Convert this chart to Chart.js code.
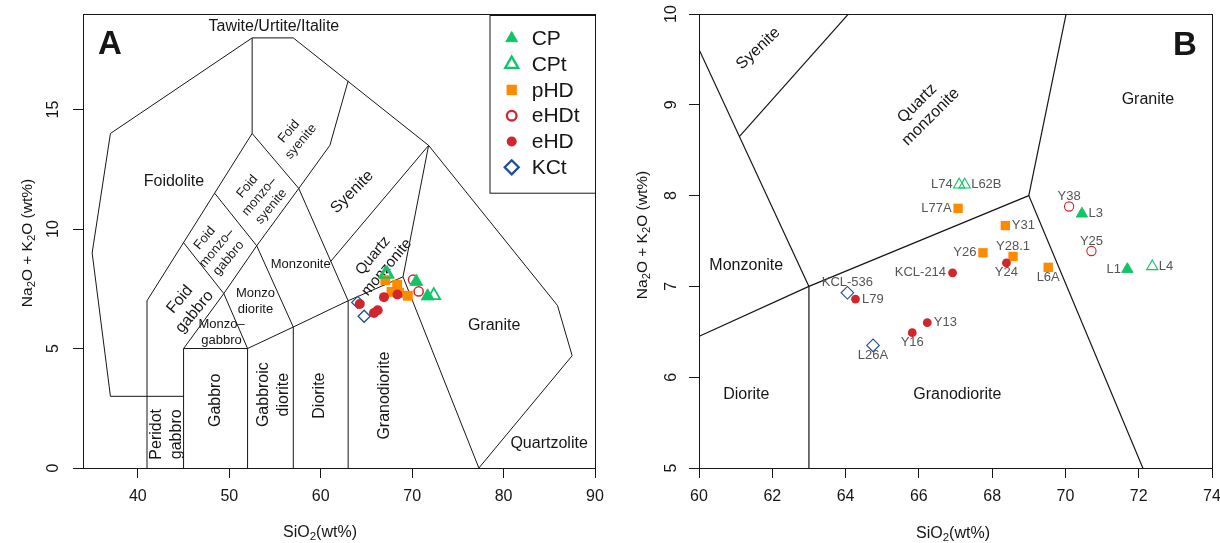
<!DOCTYPE html>
<html>
<head>
<meta charset="utf-8">
<title>TAS classification of plutonic rocks</title>
<script src="https://cdn.jsdelivr.net/npm/chart.js@4.4.1/dist/chart.umd.min.js"></script>
<style>
  html, body { margin: 0; padding: 0; background: #fff; }
  #wrap { position: relative; width: 1220px; height: 543px; overflow: hidden; }
  #wrap canvas { position: absolute; top: 0; }
</style>
</head>
<body>
<div id="wrap">
  <canvas id="panelA" width="610" height="543" style="left:0px;width:610px;height:543px"></canvas>
  <canvas id="panelB" width="610" height="543" style="left:610px;width:610px;height:543px"></canvas>
</div>
<script>
// ---------- sample data: SiO2 and Na2O+K2O (wt%) ----------
const cpNames = ['L3', 'L1'];
const cpSiO2  = [70.45, 71.69];
const cpAlk   = [7.80, 7.19];

const cptNames = ['L74', 'L62B', 'L4'];
const cptSiO2  = [67.10, 67.25, 72.37];
const cptAlk   = [8.12, 8.12, 7.22];

const phdNames = ['L77A', 'Y31', 'Y26', 'Y28.1', 'L6A'];
const phdSiO2  = [67.07, 68.36, 67.75, 68.57, 69.53];
const phdAlk   = [7.86, 7.67, 7.37, 7.33, 7.21];

const ehdtNames = ['Y38', 'Y25'];
const ehdtSiO2  = [70.10, 70.71];
const ehdtAlk   = [7.88, 7.39];

const ehdNames = ['Y24', 'KCL-214', 'L79', 'Y16', 'Y13'];
const ehdSiO2  = [68.39, 66.92, 64.27, 65.82, 66.23];
const ehdAlk   = [7.26, 7.15, 6.86, 6.49, 6.60];

const kctNames = ['KCL-536', 'L26A'];
const kctSiO2  = [64.05, 64.75];
const kctAlk   = [6.93, 6.35];

// axis ticks
const siTicksA  = [40, 50, 60, 70, 80, 90];
const alkTicksA = [0, 5, 10, 15];
const siTicksB  = [60, 62, 64, 66, 68, 70, 72, 74];
const alkTicksB = [5, 6, 7, 8, 9, 10];

// field boundaries of the plutonic TAS diagram (Middlemost 1994), [SiO2, Na2O+K2O]
const fieldLines = [
  [[37, 3], [35, 9], [37, 14], [52.5, 18], [57, 18], [71.8, 13.5], [85.9, 6.8], [87.5, 4.7], [77.3, 0]],
  [[37, 3], [45, 3]],
  [[41, 0], [41, 7], [52.5, 14], [52.5, 18]],
  [[45, 0], [45, 5], [52, 5], [57, 5.9], [63, 7], [69, 8], [77.3, 0]],
  [[52, 0], [52, 5]],
  [[57, 0], [57, 5.9]],
  [[63, 0], [63, 7]],
  [[69, 8], [71.8, 13.5]],
  [[45, 5], [49.4, 7.3], [53, 9.3], [57.6, 11.7], [61, 13.5], [63, 16.2]],
  [[45, 9.43], [49.4, 7.3], [52, 5]],
  [[48.4, 11.5], [53, 9.3], [57, 5.9]],
  [[52.5, 14], [57.6, 11.7], [63, 7]],
  [[61.1, 8.65], [71.8, 13.5]]
];

// field names: text lines, anchor in data units, rotation, font size
const fieldsA = [
  { text: ['Tawite/Urtite/Italite'], x: 54.88, y: 18.46, rot: 0, size: 16 },
  { text: ['Foidolite'], x: 43.95, y: 11.99, rot: 0, size: 16 },
  { text: ['Foid', 'syenite'], x: 57.18, y: 13.87, rot: -50, size: 13 },
  { text: ['Foid', 'monzo\u2013', 'syenite'], x: 53.28, y: 11.36, rot: -50, size: 13 },
  { text: ['Foid', 'monzo\u2013', 'gabbro'], x: 48.62, y: 9.2, rot: -50, size: 13 },
  { text: ['Foid', 'gabbro'], x: 45.4, y: 6.79, rot: -50, size: 16 },
  { text: ['Monzonite'], x: 57.81, y: 8.51, rot: 0, size: 13 },
  { text: ['Monzo', 'diorite'], x: 52.86, y: 6.97, rot: 0, size: 13 },
  { text: ['Monzo\u2013', 'gabbro'], x: 49.16, y: 5.67, rot: 0, size: 13 },
  { text: ['Peridot', 'gabbro'], x: 43.13, y: 1.41, rot: -90, size: 16, lh: 20 },
  { text: ['Gabbro'], x: 48.49, y: 2.83, rot: -90, size: 16 },
  { text: ['Gabbroic', 'diorite'], x: 54.88, y: 3.07, rot: -90, size: 16, lh: 20 },
  { text: ['Diorite'], x: 59.91, y: 3.03, rot: -90, size: 16 },
  { text: ['Granodiorite'], x: 67.02, y: 3.03, rot: -90, size: 16 },
  { text: ['Granite'], x: 78.97, y: 5.97, rot: 0, size: 16 },
  { text: ['Quartzolite'], x: 84.98, y: 1.02, rot: 0, size: 16 },
  { text: ['Syenite'], x: 63.44, y: 11.55, rot: -45, size: 16 },
  { text: ['Quartz', 'monzonite'], x: 66.47, y: 8.64, rot: -50, size: 15 }
];
const fieldsB = [
  { text: ['Syenite'], x: 61.62, y: 9.62, rot: -43, size: 16 },
  { text: ['Quartz', 'monzonite'], x: 66.14, y: 8.94, rot: -45, size: 16 },
  { text: ['Granite'], x: 72.25, y: 9.06, rot: 0, size: 16 },
  { text: ['Monzonite'], x: 61.29, y: 7.23, rot: 0, size: 16 },
  { text: ['Diorite'], x: 61.29, y: 5.81, rot: 0, size: 16 },
  { text: ['Granodiorite'], x: 67.05, y: 5.81, rot: 0, size: 16 }
];

// side of each sample name around its marker (L, R, T, B)
const cpSides   = ['R', 'L'];
const cptSides  = ['L', 'R', 'R'];
const phdSides  = ['L', 'R', 'L', 'T', 'B'];
const ehdtSides = ['T', 'T'];
const ehdSides  = ['B', 'L', 'R', 'B', 'R'];
const kctSides  = ['T', 'B'];

// ---------- styling ----------
const FONT = "'Liberation Sans', Arial, Helvetica, sans-serif";
Chart.defaults.font.family = FONT;
const GREEN = '#10c566', ORANGE = '#ff8a00', RED = '#d1262c', BLUE = '#1d4f98';
const INK = '#161616';

const groups = [
  { name: 'CP',   ids: cpNames,   si: cpSiO2,   alk: cpAlk,   sides: cpSides,   shape: 'triangle', color: GREEN,  open: false, z: 1 },
  { name: 'CPt',  ids: cptNames,  si: cptSiO2,  alk: cptAlk,  sides: cptSides,  shape: 'triangle', color: GREEN,  open: true,  z: 2 },
  { name: 'pHD',  ids: phdNames,  si: phdSiO2,  alk: phdAlk,  sides: phdSides,  shape: 'rect',     color: ORANGE, open: false, z: 6 },
  { name: 'eHDt', ids: ehdtNames, si: ehdtSiO2, alk: ehdtAlk, sides: ehdtSides, shape: 'circle',   color: RED,    open: true,  z: 3 },
  { name: 'eHD',  ids: ehdNames,  si: ehdSiO2,  alk: ehdAlk,  sides: ehdSides,  shape: 'circle',   color: RED,    open: false, z: 4 },
  { name: 'KCt',  ids: kctNames,  si: kctSiO2,  alk: kctAlk,  sides: kctSides,  shape: 'rectRot',  color: BLUE,   open: true,  z: 5 }
];

// marker [radius, border width] per panel
const markA = { CP: [7.4, 1], CPt: [7.4, 1.8], pHD: [7, 0], eHDt: [4.6, 1.5], eHD: [5, 0], KCt: [6, 1.3] };
const markB = { CP: [6.5, 1], CPt: [6.5, 1.1], pHD: [6.6, 0], eHDt: [4.6, 1.1], eHD: [4.4, 0], KCt: [6.3, 1.1] };
const markLegend = { CP: [6.8, 1], CPt: [7.5, 2.3], pHD: [7.3, 0], eHDt: [4.8, 2.3], eHD: [5, 0], KCt: [7, 2.3] };

// ---------- drawing helpers ----------
function drawTextBlock(ctx, lines, x, y, rotDeg, size, color, lh) {
  ctx.save();
  ctx.translate(x, y);
  ctx.rotate(rotDeg * Math.PI / 180);
  ctx.font = size + 'px ' + FONT;
  ctx.fillStyle = color;
  ctx.textAlign = 'center';
  ctx.textBaseline = 'middle';
  const h = lh || size * 1.2;
  lines.forEach((t, i) => ctx.fillText(t, 0, (i - (lines.length - 1) / 2) * h));
  ctx.restore();
}

// text with subscript parts, centred on (x, y)
function drawFormula(ctx, parts, x, y, rot, size) {
  ctx.save();
  ctx.translate(x, y);
  ctx.rotate(rot);
  const big = size + 'px ' + FONT, small = (size * 0.72).toFixed(1) + 'px ' + FONT;
  let w = 0;
  parts.forEach(([t, sub]) => { ctx.font = sub ? small : big; w += ctx.measureText(t).width; });
  let cx = -w / 2;
  ctx.fillStyle = INK;
  ctx.textAlign = 'left';
  ctx.textBaseline = 'alphabetic';
  parts.forEach(([t, sub]) => {
    ctx.font = sub ? small : big;
    ctx.fillText(t, cx, size * 0.36 + (sub ? size * 0.22 : 0));
    cx += ctx.measureText(t).width;
  });
  ctx.restore();
}

function drawMarker(ctx, g, r, bw, x, y) {
  ctx.save();
  ctx.fillStyle = g.open ? 'rgba(0,0,0,0)' : g.color;
  ctx.strokeStyle = g.color;
  ctx.lineWidth = bw;
  Chart.helpers.drawPoint(ctx, { pointStyle: g.shape, rotation: 0, radius: r, borderWidth: bw }, x, y);
  ctx.restore();
}

// ---------- one panel ----------
function buildPanel(canvasId, p) {
  const lineSets = fieldLines.map(seg => ({
    data: seg.map(([x, y]) => ({ x, y })),
    showLine: true,
    pointRadius: 0,
    borderColor: INK,
    borderWidth: p.lineW,
    fill: false,
    tension: 0,
    order: 10
  }));
  const pointSets = groups.map(g => ({
    label: g.name,
    data: g.si.map((x, i) => ({ x, y: g.alk[i] })),
    showLine: false,
    pointStyle: g.shape,
    pointRadius: p.mark[g.name][0],
    pointBorderWidth: p.mark[g.name][1],
    pointBackgroundColor: g.open ? 'rgba(0,0,0,0)' : g.color,
    pointBorderColor: g.color,
    order: g.z
  }));

  const axisGrid = { drawOnChartArea: false, drawTicks: true, tickLength: 10, color: INK, tickColor: INK, lineWidth: 1 };

  const decor = {
    id: 'decor' + p.letter,
    beforeDatasetsDraw(chart) {
      const { ctx, scales: { x, y } } = chart;
      p.fields.forEach(f => drawTextBlock(ctx, f.text, x.getPixelForValue(f.x), y.getPixelForValue(f.y), f.rot, f.size, INK, f.lh));
    },
    afterDatasetsDraw(chart) {
      const { ctx, chartArea: a, scales: { x, y } } = chart;
      // frame
      ctx.save();
      ctx.strokeStyle = INK;
      ctx.lineWidth = 1;
      ctx.strokeRect(a.left + 0.5, a.top + 0.5, a.right - a.left, a.bottom - a.top);
      ctx.restore();

      // vertical tick labels on the y axis
      y.ticks.forEach(t => drawTextBlock(ctx, [String(t.value)], p.yTickX, y.getPixelForValue(t.value), -90, 16, INK));

      // axis titles
      drawFormula(ctx, [['SiO', 0], ['2', 1], ['(wt%)', 0]], p.xTitle[0], p.xTitle[1], 0, 16);
      drawFormula(ctx, [['Na', 0], ['2', 1], ['O + K', 0], ['2', 1], ['O (wt%)', 0]], p.yTitle[0], p.yTitle[1], -Math.PI / 2, 15.5);

      // panel letter
      ctx.save();
      ctx.font = 'bold 33px ' + FONT;
      ctx.fillStyle = INK;
      ctx.textAlign = 'left';
      ctx.textBaseline = 'alphabetic';
      ctx.fillText(p.letter, p.letterPos[0], p.letterPos[1]);
      ctx.restore();

      // sample names
      if (p.showIds) {
        ctx.save();
        ctx.font = '13px ' + FONT;
        ctx.fillStyle = '#555';
        groups.forEach(g => g.ids.forEach((id, i) => {
          const px = x.getPixelForValue(g.si[i]), py = y.getPixelForValue(g.alk[i]);
          const s = g.sides[i];
          ctx.textBaseline = 'middle';
          if (s === 'L') { ctx.textAlign = 'right'; ctx.fillText(id, px - 6.5, py); }
          else if (s === 'R') { ctx.textAlign = 'left'; ctx.fillText(id, px + 6.5, py); }
          else if (s === 'T') { ctx.textAlign = 'center'; ctx.fillText(id, px, py - 10); }
          else { ctx.textAlign = 'center'; ctx.fillText(id, px, py + 10); }
        }));
        ctx.restore();
      }

      // legend box in the top-right corner
      if (p.legend) {
        const bx = a.right - 105.5, by = a.top + 1, bw = 105.5, bh = 177.7;
        ctx.save();
        ctx.fillStyle = '#fff';
        ctx.fillRect(bx, by, bw, bh);
        ctx.strokeStyle = INK;
        ctx.lineWidth = 1;
        ctx.strokeRect(bx + 0.5, by + 0.5, bw, bh);
        ctx.font = '21px ' + FONT;
        ctx.fillStyle = INK;
        ctx.textAlign = 'left';
        ctx.textBaseline = 'middle';
        groups.forEach((g, i) => {
          const yy = by + 23.3 + i * 25.8;
          drawMarker(ctx, g, markLegend[g.name][0], markLegend[g.name][1], bx + 22.2, yy);
          ctx.fillStyle = INK;
          ctx.fillText(g.name, bx + 42.2, yy + 1);
        });
        ctx.restore();
      }
    }
  };

  return new Chart(document.getElementById(canvasId), {
    type: 'scatter',
    data: { datasets: [...pointSets, ...lineSets] },
    options: {
      responsive: false,
      animation: false,
      events: [],
      layout: { padding: { left: 0, top: 14, right: p.padRight, bottom: 0 } },
      plugins: { legend: { display: false }, tooltip: { enabled: false } },
      scales: {
        x: {
          type: 'linear',
          min: p.xMin, max: p.xMax,
          afterBuildTicks: s => { s.ticks = p.xTicks.map(v => ({ value: v })); },
          afterFit: s => { s.height = 75; s.paddingLeft = 0; s.paddingRight = 0; },
          grid: axisGrid,
          border: { display: false },
          ticks: { color: INK, font: { size: 16 }, padding: 9, maxRotation: 0, minRotation: 0, autoSkip: false }
        },
        y: {
          type: 'linear',
          min: p.yMin, max: p.yMax,
          afterBuildTicks: s => { s.ticks = p.yTicks.map(v => ({ value: v })); },
          afterFit: s => { s.width = p.yAxisW; s.paddingTop = 0; s.paddingBottom = 0; },
          grid: axisGrid,
          border: { display: false },
          ticks: { display: false }
        }
      }
    },
    plugins: [decor]
  });
}

buildPanel('panelA', {
  letter: 'A', xMin: 34, xMax: 90, yMin: 0, yMax: 19,
  xTicks: siTicksA, yTicks: alkTicksA,
  yAxisW: 83, padRight: 15, yTickX: 53.5,
  xTitle: [320, 531], yTitle: [26, 243], letterPos: [98, 54],
  lineW: 1, mark: markA, fields: fieldsA, showIds: false, legend: true
});

buildPanel('panelB', {
  letter: 'B', xMin: 60, xMax: 74, yMin: 5, yMax: 10,
  xTicks: siTicksB, yTicks: alkTicksB,
  yAxisW: 89, padRight: 8, yTickX: 62,
  xTitle: [343, 532], yTitle: [31, 235], letterPos: [563, 55],
  lineW: 1.2, mark: markB, fields: fieldsB, showIds: true, legend: false
});
</script>
</body>
</html>
